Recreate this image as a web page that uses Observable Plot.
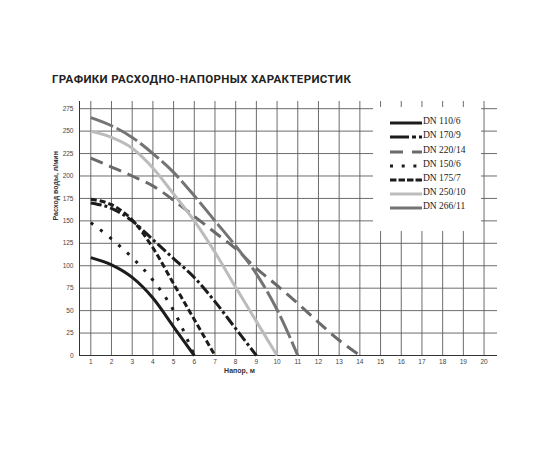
<!DOCTYPE html>
<html><head><meta charset="utf-8">
<script src="https://cdn.jsdelivr.net/npm/d3@7"></script>
<script src="https://cdn.jsdelivr.net/npm/@observablehq/plot@0.6"></script>
<style>
body{margin:0;background:#fff;}
#wrap{position:relative;width:550px;height:450px;overflow:hidden;background:#fff;}
#title{position:absolute;left:52px;top:74px;font:700 11.5px Roboto, sans-serif;letter-spacing:0.35px;color:#222;white-space:nowrap;line-height:11px;}
#chart{position:absolute;left:0;top:100px;}
#legend{position:absolute;left:373px;top:107px;width:108px;height:124px;background:#fff;}
.row{position:absolute;left:0;height:14px;width:108px;}
.row svg{position:absolute;left:16.5px;top:4px;}
.row span{position:absolute;left:50px;top:0;line-height:14px;font:9.5px "Liberation Serif","Times New Roman",serif;color:#1a1a1a;white-space:nowrap;}
</style></head>
<body>
<div id="wrap">
  <div id="title">ГРАФИКИ РАСХОДНО-НАПОРНЫХ ХАРАКТЕРИСТИК</div>
  <div id="chart"></div>
  <div id="legend"></div>
</div>
<script>
// ---- data ----
const titleText = "ГРАФИКИ РАСХОДНО-НАПОРНЫХ ХАРАКТЕРИСТИК";
const xLabel = "Напор, м";
const yLabel = "Расход воды, л/мин";
const xTicks = [1,2,3,4,5,6,7,8,9,10,11,12,13,14,15,16,17,18,19,20];
const yTicks = [0,25,50,75,100,125,150,175,200,225,250,275];

const names = ["DN 110/6","DN 170/9","DN 220/14","DN 150/6","DN 175/7","DN 250/10","DN 266/11"];

const h110 = [1,2,3,4,5,6];
const q110 = [109,101,87,64,32,0];
const h170 = [1,2,3,4,5,6,7,8,9];
const q170 = [170,164,150,129,108,87,60,30,0];
const h220 = [1,2,3,4,5,6,7,8,9,10,11,12,13,14];
const q220 = [220,210,200,189,173,155,137,119,97,78,58,37,17,0];
const h150 = [1,2,3,4,5,6];
const q150 = [148,130,109,84,50,0];
const h175 = [1,2,3,4,5,6,7];
const q175 = [174,168,151,120,80,40,0];
const h250 = [1,2,3,4,5,6,7,8,9,10];
const q250 = [250,243,231,209,180,150,115,76,38,0];
const h266 = [1,2,3,4,5,6,7,8,9,10,11];
const q266 = [265,256,243,225,204,178,150,122,91,51,0];

const heads = [h110,h170,h220,h150,h175,h250,h266];
const flows = [q110,q170,q220,q150,q175,q250,q266];

// ---- styles ----
const colors = ["#1c1c1c","#1c1c1c","#6a6a6a","#1c1c1c","#1c1c1c","#bcbcbc","#747474"];
const dashes = ["none","11,3,3,3","13,7","3,8.8","6,3","none","24,4"];
const legendDashes = ["none","19,3,4,3","13,9","3,8.7","6.5,2","none","none"];

const xDomain = [0.454, 20.65];
const yDomain = [0, 283];

const lineMarks = names.map((n,i) => {
  const rows = heads[i].map((h,j) => ({h, q: flows[i][j]}));
  return Plot.line(rows, {
    x: "h", y: "q", stroke: colors[i], strokeWidth: 3,
    strokeDasharray: dashes[i] === "none" ? undefined : dashes[i],
    curve: "monotone-x", strokeLinecap: "butt", strokeLinejoin: "round"
  });
});

const chart = Plot.plot({
  width: 550, height: 350,
  marginLeft: 79, marginRight: 53, marginTop: 1, marginBottom: 95,
  style: {fontFamily: "'Liberation Sans', Arial, sans-serif", fontSize: "6.5px", color: "#444", background: "#fff", overflow: "visible"},
  x: {domain: xDomain},
  y: {domain: yDomain},
  marks: [
    Plot.gridX(xTicks, {stroke: "#5c5c5c", strokeOpacity: 1, strokeWidth: 0.9}),
    Plot.gridY(yTicks, {stroke: "#5c5c5c", strokeOpacity: 1, strokeWidth: 0.9}),
    Plot.ruleX([xDomain[0]], {stroke: "#333", strokeWidth: 1}),
    Plot.ruleY([0], {stroke: "#333", strokeWidth: 1}),
    Plot.axisX(xTicks, {tickSize: 0, tickPadding: 3.5, label: null, fill: "#444"}),
    Plot.axisY(yTicks, {tickSize: 0, tickPadding: 6, label: null, fill: "#444"}),
    ...lineMarks,
    Plot.text([xLabel], {frameAnchor: "bottom", dx: -49, dy: 17, fontWeight: "bold", fontSize: 7, fill: "#333"}),
    Plot.text([yLabel], {frameAnchor: "left", rotate: -90, dx: -24, dy: -8, fontWeight: "bold", fontSize: 7, fill: "#333"})
  ]
});
document.getElementById("chart").appendChild(chart);
document.getElementById("title").textContent = titleText;

// ---- legend ----
const legend = document.getElementById("legend");
names.forEach((n,i) => {
  const row = document.createElement("div");
  row.className = "row";
  row.style.top = (16.3 + i*14.17 - 7) + "px";
  const da = legendDashes[i] === "none" ? "" : ` stroke-dasharray="${legendDashes[i]}"`;
  row.innerHTML = `<svg width="32" height="6"><line x1="0" x2="32" y1="3" y2="3" stroke="${colors[i]}" stroke-width="3"${da}/></svg><span>${n}</span>`;
  legend.appendChild(row);
});
</script>
</body></html>
